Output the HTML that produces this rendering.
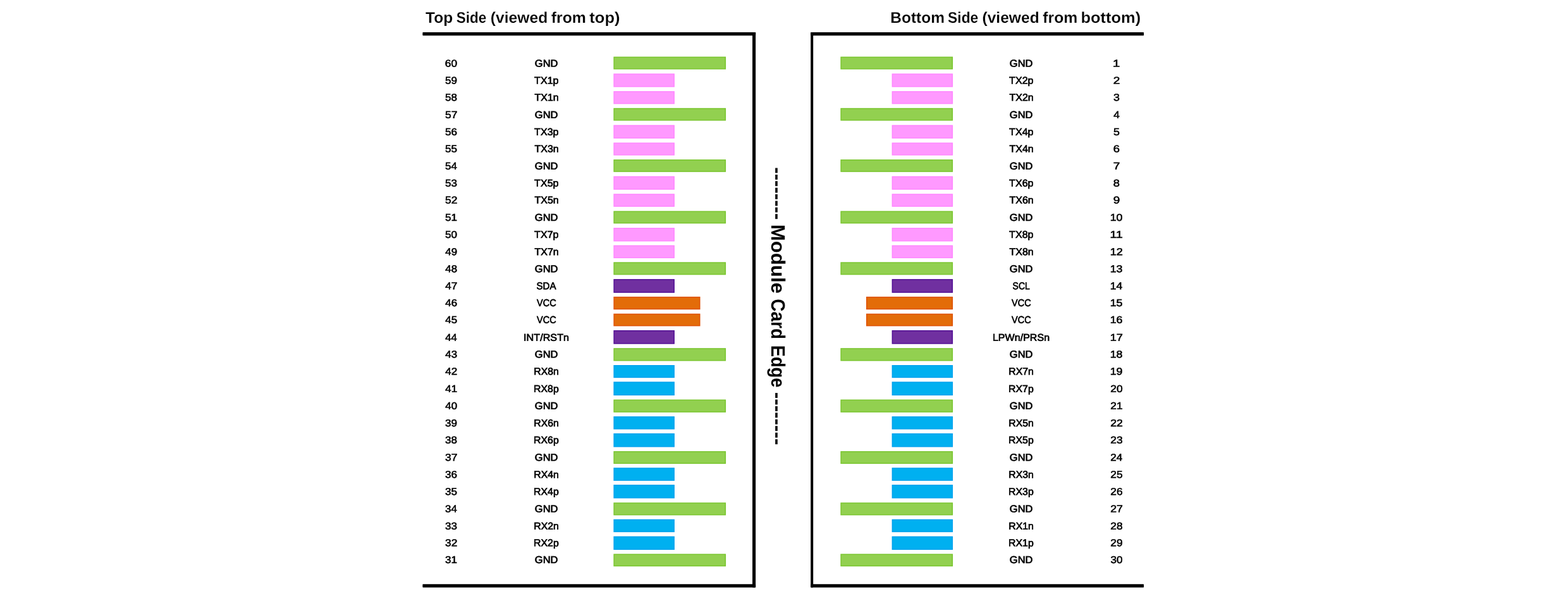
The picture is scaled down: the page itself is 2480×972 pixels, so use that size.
<!DOCTYPE html>
<html lang="en">
<head>
<meta charset="utf-8">
<title>Module Card Edge pinout</title>
<style>
html,body{margin:0;padding:0;background:#fff;}
body{width:2480px;height:972px;}
svg{display:block;}
text{font-family:"Liberation Sans",sans-serif;fill:#000;text-rendering:geometricPrecision;}
.t{font-size:15.8px;stroke:#000;stroke-width:0.7px;text-rendering:geometricPrecision;}
.n{stroke-width:0.6px;}
.h{font-size:24.2px;font-weight:bold;stroke:#fff;stroke-width:.18px;}
.m{font-size:30.8px;font-weight:bold;stroke:#000;stroke-width:0px;}
.bars{stroke-width:1.5px;}
.g{fill:#92d050;stroke:#79c52d;}
.p{fill:#ff99ff;stroke:#ff85ff;}
.v{fill:#7030a0;stroke:#520e94;}
.o{fill:#e36c09;stroke:#df5002;}
.b{fill:#00b0f0;stroke:#00a2ee;}
.k{fill:#000;}
</style>
</head>
<body>
<svg width="2480" height="972" viewBox="0 0 2480 972">

<g class="k">
<rect x="668.4" y="51" width="526.75" height="5.2" rx=".8"/>
<rect x="1190.05" y="51" width="5.1" height="877.45" rx=".8"/>
<rect x="668.4" y="923.2" width="526.75" height="5.25" rx=".8"/>
<rect x="1282.2" y="51" width="526.9" height="5.2" rx=".8"/>
<rect x="1282.2" y="51" width="4" height="877.45" rx=".8"/>
<rect x="1282.2" y="923.2" width="526.9" height="5.25" rx=".8"/>
</g>
<g class="h">
<text transform="translate(672.99 36.10) scale(1.0146 1)">Top</text>
<text transform="translate(721.87 36.10) scale(0.9299 1)">Side</text>
<text transform="translate(775.72 36.10) scale(1.0204 1)">(viewed</text>
<text transform="translate(871.69 36.10) scale(1.0280 1)">from</text>
<text transform="translate(932.27 36.10) scale(1.0560 1)">top)</text>
</g>
<g class="h">
<text transform="translate(1408.23 36.10) scale(1.0129 1)">Bottom</text>
<text transform="translate(1499.06 36.10) scale(0.9442 1)">Side</text>
<text transform="translate(1553.53 36.10) scale(1.0157 1)">(viewed</text>
<text transform="translate(1649.19 36.10) scale(1.0280 1)">from</text>
<text transform="translate(1709.46 36.10) scale(1.0529 1)">bottom)</text>
</g>
<g class="m" transform="translate(1219.9 0) rotate(90)">
<text transform="translate(264.23 0) scale(1.0138 1)">--------</text>
<text transform="translate(354.67 0) scale(1.0138 1)">Module</text>
<text transform="translate(472.37 0) scale(0.9075 1)">Card</text>
<text transform="translate(545.73 0) scale(0.8858 1)">Edge</text>
<text transform="translate(619.73 0) scale(1.0189 1)">--------</text>
</g>
<g class="bars">
<rect class="g" x="971.15" y="90.35" width="176.20" height="18.50"/>
<rect class="g" x="1330.15" y="90.35" width="176.20" height="18.50"/>
<rect class="p" x="971.15" y="117.05" width="95.00" height="19.80"/>
<rect class="p" x="1411.35" y="117.05" width="95.00" height="19.80"/>
<rect class="p" x="971.15" y="144.85" width="95.00" height="18.80"/>
<rect class="p" x="1411.35" y="144.85" width="95.00" height="18.80"/>
<rect class="g" x="971.15" y="171.55" width="176.20" height="18.40"/>
<rect class="g" x="1330.15" y="171.55" width="176.20" height="18.40"/>
<rect class="p" x="971.15" y="198.35" width="95.00" height="19.80"/>
<rect class="p" x="1411.35" y="198.35" width="95.00" height="19.80"/>
<rect class="p" x="971.15" y="226.15" width="95.00" height="18.70"/>
<rect class="p" x="1411.35" y="226.15" width="95.00" height="18.70"/>
<rect class="g" x="971.15" y="252.85" width="176.20" height="18.20"/>
<rect class="g" x="1330.15" y="252.85" width="176.20" height="18.20"/>
<rect class="p" x="971.15" y="279.25" width="95.00" height="19.80"/>
<rect class="p" x="1411.35" y="279.25" width="95.00" height="19.80"/>
<rect class="p" x="971.15" y="307.05" width="95.00" height="19.00"/>
<rect class="p" x="1411.35" y="307.05" width="95.00" height="19.00"/>
<rect class="g" x="971.15" y="334.25" width="176.20" height="18.30"/>
<rect class="g" x="1330.15" y="334.25" width="176.20" height="18.30"/>
<rect class="p" x="971.15" y="360.75" width="95.00" height="20.00"/>
<rect class="p" x="1411.35" y="360.75" width="95.00" height="20.00"/>
<rect class="p" x="971.15" y="388.35" width="95.00" height="19.00"/>
<rect class="p" x="1411.35" y="388.35" width="95.00" height="19.00"/>
<rect class="g" x="971.15" y="415.05" width="176.20" height="18.60"/>
<rect class="g" x="1330.15" y="415.05" width="176.20" height="18.60"/>
<rect class="v" x="971.15" y="441.85" width="95.00" height="20.20"/>
<rect class="v" x="1411.35" y="441.85" width="95.00" height="20.20"/>
<rect class="o" x="971.15" y="469.65" width="135.60" height="18.80"/>
<rect class="o" x="1370.75" y="469.65" width="135.60" height="18.80"/>
<rect class="o" x="971.15" y="496.45" width="135.60" height="18.30"/>
<rect class="o" x="1370.75" y="496.45" width="135.60" height="18.30"/>
<rect class="v" x="971.15" y="522.75" width="95.00" height="20.20"/>
<rect class="v" x="1411.35" y="522.75" width="95.00" height="20.20"/>
<rect class="g" x="971.15" y="550.95" width="176.20" height="18.80"/>
<rect class="g" x="1330.15" y="550.95" width="176.20" height="18.80"/>
<rect class="b" x="971.15" y="577.75" width="95.00" height="18.70"/>
<rect class="b" x="1411.35" y="577.75" width="95.00" height="18.70"/>
<rect class="b" x="971.15" y="604.05" width="95.00" height="20.20"/>
<rect class="b" x="1411.35" y="604.05" width="95.00" height="20.20"/>
<rect class="g" x="971.15" y="632.25" width="176.20" height="18.80"/>
<rect class="g" x="1330.15" y="632.25" width="176.20" height="18.80"/>
<rect class="b" x="971.15" y="658.85" width="95.00" height="19.00"/>
<rect class="b" x="1411.35" y="658.85" width="95.00" height="19.00"/>
<rect class="b" x="971.15" y="685.65" width="95.00" height="20.20"/>
<rect class="b" x="1411.35" y="685.65" width="95.00" height="20.20"/>
<rect class="g" x="971.15" y="713.85" width="176.20" height="18.50"/>
<rect class="g" x="1330.15" y="713.85" width="176.20" height="18.50"/>
<rect class="b" x="971.15" y="739.95" width="95.00" height="19.20"/>
<rect class="b" x="1411.35" y="739.95" width="95.00" height="19.20"/>
<rect class="b" x="971.15" y="766.85" width="95.00" height="20.00"/>
<rect class="b" x="1411.35" y="766.85" width="95.00" height="20.00"/>
<rect class="g" x="971.15" y="795.05" width="176.20" height="18.60"/>
<rect class="g" x="1330.15" y="795.05" width="176.20" height="18.60"/>
<rect class="b" x="971.15" y="821.45" width="95.00" height="18.90"/>
<rect class="b" x="1411.35" y="821.45" width="95.00" height="18.90"/>
<rect class="b" x="971.15" y="848.35" width="95.00" height="19.90"/>
<rect class="b" x="1411.35" y="848.35" width="95.00" height="19.90"/>
<rect class="g" x="971.15" y="876.15" width="176.20" height="18.30"/>
<rect class="g" x="1330.15" y="876.15" width="176.20" height="18.30"/>
</g>
<g class="t">
<text class="n" transform="translate(703.75 105.55) rotate(.05) scale(1.099 1)">60</text><text transform="translate(845.83 105.55) rotate(.05) scale(1.042 1)">GND</text>
<text transform="translate(1596.83 105.55) rotate(.05) scale(1.042 1)">GND</text><text class="n" transform="translate(1760.07 105.55) rotate(.05) scale(1.283 1)">1</text>
<text class="n" transform="translate(704.03 132.45) rotate(.05) scale(1.082 1)">59</text><text transform="translate(845.10 132.45) rotate(.05) scale(1.019 1)">TX1p</text>
<text transform="translate(1596.10 132.45) rotate(.05) scale(1.019 1)">TX2p</text><text class="n" transform="translate(1760.75 132.45) rotate(.05) scale(1.200 1)">2</text>
<text class="n" transform="translate(704.03 159.25) rotate(.05) scale(1.082 1)">58</text><text transform="translate(845.40 159.25) rotate(.05) scale(1.016 1)">TX1n</text>
<text transform="translate(1596.40 159.25) rotate(.05) scale(1.016 1)">TX2n</text><text class="n" transform="translate(1761.07 159.25) rotate(.05) scale(1.127 1)">3</text>
<text class="n" transform="translate(704.03 186.85) rotate(.05) scale(1.099 1)">57</text><text transform="translate(845.83 186.85) rotate(.05) scale(1.042 1)">GND</text>
<text transform="translate(1596.83 186.85) rotate(.05) scale(1.042 1)">GND</text><text class="n" transform="translate(1761.35 186.85) rotate(.05) scale(1.094 1)">4</text>
<text class="n" transform="translate(704.03 213.75) rotate(.05) scale(1.082 1)">56</text><text transform="translate(845.10 213.75) rotate(.05) scale(1.019 1)">TX3p</text>
<text transform="translate(1596.10 213.75) rotate(.05) scale(1.019 1)">TX4p</text><text class="n" transform="translate(1761.07 213.75) rotate(.05) scale(1.127 1)">5</text>
<text class="n" transform="translate(704.03 240.55) rotate(.05) scale(1.082 1)">55</text><text transform="translate(845.40 240.55) rotate(.05) scale(1.016 1)">TX3n</text>
<text transform="translate(1596.40 240.55) rotate(.05) scale(1.016 1)">TX4n</text><text class="n" transform="translate(1760.77 240.55) rotate(.05) scale(1.163 1)">6</text>
<text class="n" transform="translate(704.03 267.65) rotate(.05) scale(1.067 1)">54</text><text transform="translate(845.83 267.65) rotate(.05) scale(1.042 1)">GND</text>
<text transform="translate(1596.83 267.65) rotate(.05) scale(1.042 1)">GND</text><text class="n" transform="translate(1760.75 267.65) rotate(.05) scale(1.200 1)">7</text>
<text class="n" transform="translate(704.03 294.75) rotate(.05) scale(1.082 1)">53</text><text transform="translate(845.10 294.75) rotate(.05) scale(1.019 1)">TX5p</text>
<text transform="translate(1596.10 294.75) rotate(.05) scale(1.019 1)">TX6p</text><text class="n" transform="translate(1760.77 294.75) rotate(.05) scale(1.163 1)">8</text>
<text class="n" transform="translate(704.03 321.45) rotate(.05) scale(1.099 1)">52</text><text transform="translate(845.40 321.45) rotate(.05) scale(1.016 1)">TX5n</text>
<text transform="translate(1596.40 321.45) rotate(.05) scale(1.016 1)">TX6n</text><text class="n" transform="translate(1760.75 321.45) rotate(.05) scale(1.200 1)">9</text>
<text class="n" transform="translate(704.03 349.05) rotate(.05) scale(1.082 1)">51</text><text transform="translate(845.83 349.05) rotate(.05) scale(1.042 1)">GND</text>
<text transform="translate(1596.83 349.05) rotate(.05) scale(1.042 1)">GND</text><text class="n" transform="translate(1755.67 349.05) rotate(.05) scale(1.132 1)">10</text>
<text class="n" transform="translate(704.03 375.95) rotate(.05) scale(1.082 1)">50</text><text transform="translate(845.10 375.95) rotate(.05) scale(1.019 1)">TX7p</text>
<text transform="translate(1596.10 375.95) rotate(.05) scale(1.019 1)">TX8p</text><text class="n" transform="translate(1755.57 375.95) rotate(.05) scale(1.227 1)">11</text>
<text class="n" transform="translate(704.30 403.15) rotate(.05) scale(1.067 1)">49</text><text transform="translate(845.40 403.15) rotate(.05) scale(1.016 1)">TX7n</text>
<text transform="translate(1596.40 403.15) rotate(.05) scale(1.016 1)">TX8n</text><text class="n" transform="translate(1755.65 403.15) rotate(.05) scale(1.150 1)">12</text>
<text class="n" transform="translate(704.30 430.35) rotate(.05) scale(1.067 1)">48</text><text transform="translate(845.83 430.35) rotate(.05) scale(1.042 1)">GND</text>
<text transform="translate(1596.83 430.35) rotate(.05) scale(1.042 1)">GND</text><text class="n" transform="translate(1755.67 430.35) rotate(.05) scale(1.132 1)">13</text>
<text class="n" transform="translate(704.30 457.25) rotate(.05) scale(1.082 1)">47</text><text transform="translate(848.46 457.25) rotate(.05) scale(0.954 1)">SDA</text>
<text transform="translate(1601.58 457.25) rotate(.05) scale(0.886 1)">SCL</text><text class="n" transform="translate(1755.68 457.25) rotate(.05) scale(1.115 1)">14</text>
<text class="n" transform="translate(704.30 484.05) rotate(.05) scale(1.067 1)">46</text><text transform="translate(849.08 484.05) rotate(.05) scale(0.916 1)">VCC</text>
<text transform="translate(1600.08 484.05) rotate(.05) scale(0.916 1)">VCC</text><text class="n" transform="translate(1755.67 484.05) rotate(.05) scale(1.132 1)">15</text>
<text class="n" transform="translate(704.30 510.85) rotate(.05) scale(1.067 1)">45</text><text transform="translate(849.08 510.85) rotate(.05) scale(0.916 1)">VCC</text>
<text transform="translate(1600.08 510.85) rotate(.05) scale(0.916 1)">VCC</text><text class="n" transform="translate(1755.67 510.85) rotate(.05) scale(1.132 1)">16</text>
<text class="n" transform="translate(704.30 538.65) rotate(.05) scale(1.051 1)">44</text><text transform="translate(828.08 538.65) rotate(.05) scale(1.025 1)">INT/RSTn</text>
<text transform="translate(1569.88 538.65) rotate(.05) scale(1.018 1)">LPWn/PRSn</text><text class="n" transform="translate(1755.65 538.65) rotate(.05) scale(1.150 1)">17</text>
<text class="n" transform="translate(704.30 565.35) rotate(.05) scale(1.067 1)">43</text><text transform="translate(845.83 565.35) rotate(.05) scale(1.042 1)">GND</text>
<text transform="translate(1596.83 565.35) rotate(.05) scale(1.042 1)">GND</text><text class="n" transform="translate(1755.67 565.35) rotate(.05) scale(1.132 1)">18</text>
<text class="n" transform="translate(704.30 592.15) rotate(.05) scale(1.082 1)">42</text><text transform="translate(844.25 592.15) rotate(.05) scale(1.004 1)">RX8n</text>
<text transform="translate(1595.25 592.15) rotate(.05) scale(1.004 1)">RX7n</text><text class="n" transform="translate(1755.67 592.15) rotate(.05) scale(1.132 1)">19</text>
<text class="n" transform="translate(704.30 619.85) rotate(.05) scale(1.067 1)">41</text><text transform="translate(843.94 619.85) rotate(.05) scale(1.007 1)">RX8p</text>
<text transform="translate(1594.94 619.85) rotate(.05) scale(1.007 1)">RX7p</text><text class="n" transform="translate(1756.25 619.85) rotate(.05) scale(1.099 1)">20</text>
<text class="n" transform="translate(704.30 646.65) rotate(.05) scale(1.067 1)">40</text><text transform="translate(845.83 646.65) rotate(.05) scale(1.042 1)">GND</text>
<text transform="translate(1596.83 646.65) rotate(.05) scale(1.042 1)">GND</text><text class="n" transform="translate(1756.25 646.65) rotate(.05) scale(1.099 1)">21</text>
<text class="n" transform="translate(704.03 674.05) rotate(.05) scale(1.082 1)">39</text><text transform="translate(844.25 674.05) rotate(.05) scale(1.004 1)">RX6n</text>
<text transform="translate(1595.25 674.05) rotate(.05) scale(1.004 1)">RX5n</text><text class="n" transform="translate(1756.24 674.05) rotate(.05) scale(1.115 1)">22</text>
<text class="n" transform="translate(704.03 700.85) rotate(.05) scale(1.082 1)">38</text><text transform="translate(843.94 700.85) rotate(.05) scale(1.007 1)">RX6p</text>
<text transform="translate(1594.94 700.85) rotate(.05) scale(1.007 1)">RX5p</text><text class="n" transform="translate(1756.25 700.85) rotate(.05) scale(1.099 1)">23</text>
<text class="n" transform="translate(704.03 728.25) rotate(.05) scale(1.099 1)">37</text><text transform="translate(845.83 728.25) rotate(.05) scale(1.042 1)">GND</text>
<text transform="translate(1596.83 728.25) rotate(.05) scale(1.042 1)">GND</text><text class="n" transform="translate(1756.26 728.25) rotate(.05) scale(1.082 1)">24</text>
<text class="n" transform="translate(704.03 755.35) rotate(.05) scale(1.082 1)">36</text><text transform="translate(844.25 755.35) rotate(.05) scale(1.004 1)">RX4n</text>
<text transform="translate(1595.25 755.35) rotate(.05) scale(1.004 1)">RX3n</text><text class="n" transform="translate(1756.25 755.35) rotate(.05) scale(1.099 1)">25</text>
<text class="n" transform="translate(704.03 782.15) rotate(.05) scale(1.082 1)">35</text><text transform="translate(843.94 782.15) rotate(.05) scale(1.007 1)">RX4p</text>
<text transform="translate(1594.94 782.15) rotate(.05) scale(1.007 1)">RX3p</text><text class="n" transform="translate(1756.25 782.15) rotate(.05) scale(1.099 1)">26</text>
<text class="n" transform="translate(704.03 809.45) rotate(.05) scale(1.067 1)">34</text><text transform="translate(845.83 809.45) rotate(.05) scale(1.042 1)">GND</text>
<text transform="translate(1596.83 809.45) rotate(.05) scale(1.042 1)">GND</text><text class="n" transform="translate(1756.24 809.45) rotate(.05) scale(1.115 1)">27</text>
<text class="n" transform="translate(704.03 836.65) rotate(.05) scale(1.082 1)">33</text><text transform="translate(844.25 836.65) rotate(.05) scale(1.004 1)">RX2n</text>
<text transform="translate(1595.25 836.65) rotate(.05) scale(1.004 1)">RX1n</text><text class="n" transform="translate(1756.25 836.65) rotate(.05) scale(1.099 1)">28</text>
<text class="n" transform="translate(704.03 863.35) rotate(.05) scale(1.099 1)">32</text><text transform="translate(843.94 863.35) rotate(.05) scale(1.007 1)">RX2p</text>
<text transform="translate(1594.94 863.35) rotate(.05) scale(1.007 1)">RX1p</text><text class="n" transform="translate(1756.25 863.35) rotate(.05) scale(1.099 1)">29</text>
<text class="n" transform="translate(704.03 890.05) rotate(.05) scale(1.082 1)">31</text><text transform="translate(845.83 890.05) rotate(.05) scale(1.042 1)">GND</text>
<text transform="translate(1596.83 890.05) rotate(.05) scale(1.042 1)">GND</text><text class="n" transform="translate(1756.53 890.05) rotate(.05) scale(1.082 1)">30</text>
</g>
</svg>
</body>
</html>
